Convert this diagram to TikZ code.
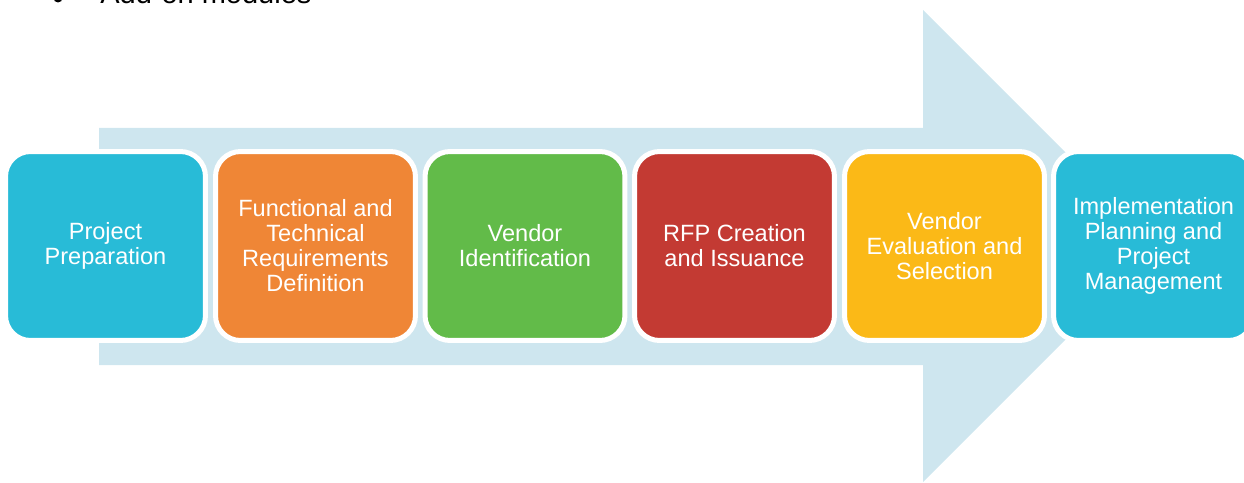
\documentclass[tikz,border=0pt]{standalone}
\usepackage{fontspec}
\setmainfont{Liberation Sans}

\begin{document}
\begin{tikzpicture}[x=0.02cm, y=-0.02cm,
    stage/.style={rounded corners=0.5cm, draw=white, line width=0.1cm,
        minimum width=4cm, minimum height=3.78cm, inner sep=0pt,
        text=white, align=center, font=\fontsize{13.4}{14.2}\selectfont}]

    % Define colors
    \definecolor{arrowblue}{RGB}{206,230,239}
    \definecolor{stagecyan}{RGB}{40,187,215}
    \definecolor{stageorange}{RGB}{239,134,54}
    \definecolor{stagegreen}{RGB}{98,187,73}
    \definecolor{stagered}{RGB}{195,58,51}
    \definecolor{stageyellow}{RGB}{251,185,23}

    \useasboundingbox (0,0) rectangle (1244,483);
    \clip (0,0) rectangle (1244,483);

    % bullet line running off the top
    \fill (58,-2) circle (4.5);
    \node[anchor=base west, inner sep=0pt, font=\fontsize{16.5}{18}\selectfont] (addon) at (100,4) {Add-on modules};

    % big arrow behind the stages
    \fill[arrowblue] (99,128) -- (923,128) -- (923,10) -- (1159,246)
        -- (923,482) -- (923,365) -- (99,365) -- cycle;

    % the six stages
    \node[stage, fill=stagecyan] (prep) at (105.5,246) {Project\\Preparation};
    \node[stage, fill=stageorange] (reqs) at (315.5,246) {Functional and\\Technical\\Requirements\\Definition};
    \node[stage, fill=stagegreen] (vendid) at (525,246) {Vendor\\Identification};
    \node[stage, fill=stagered] (rfp) at (734.5,246) {RFP Creation\\and Issuance};
    \node[stage, fill=stageyellow] (evalsel) at (944.5,246) {Vendor\\Evaluation and\\Selection};
    \node[stage, fill=stagecyan] (impl) at (1153.5,246) {Implementation\\Planning and\\Project\\Management};

\end{tikzpicture}
\end{document}
